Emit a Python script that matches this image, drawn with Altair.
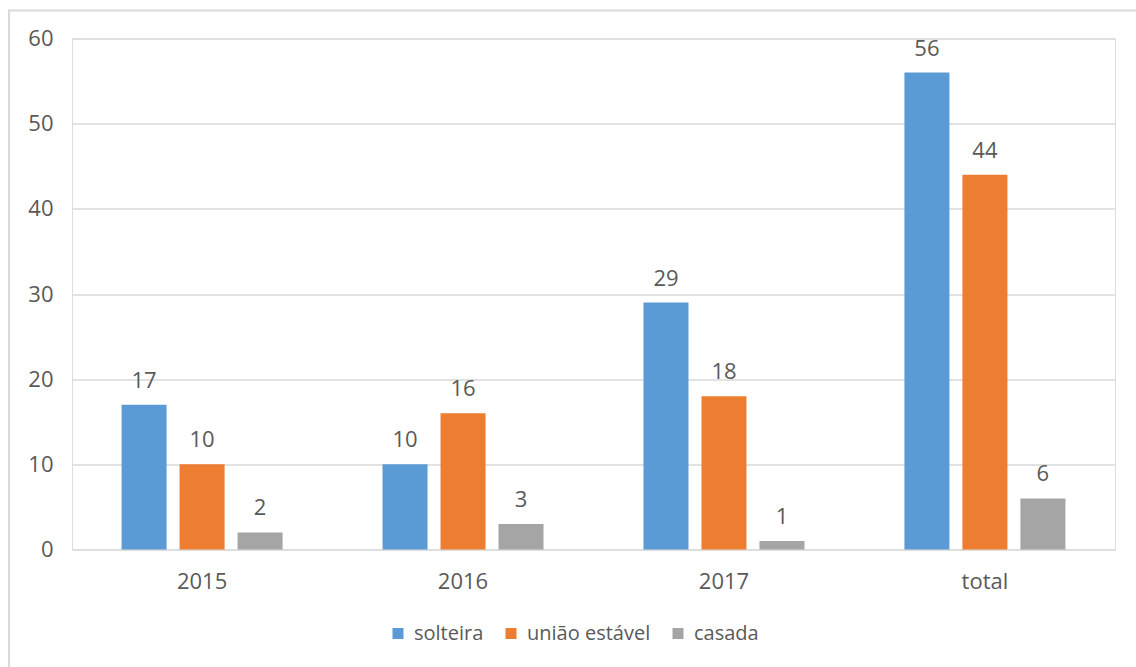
import altair as alt
import pandas as pd

categories = ["2015", "2016", "2017", "total"]
series = ["solteira", "união estável", "casada"]
solteira = [17, 10, 29, 56]
uniao = [10, 16, 18, 44]
casada = [2, 3, 1, 6]
colors = ["#5B9BD5", "#ED7D31", "#A5A5A5"]

rows = []
for name, vals in zip(series, [solteira, uniao, casada]):
    for c, v in zip(categories, vals):
        rows.append({"cat": c, "serie": name, "valor": v})
df = pd.DataFrame(rows)

FONT = "Open Sans"
TXT = "#595959"
W, H = 1043, 511

base = alt.Chart(df).encode(
    x=alt.X("cat:N", sort=categories, title=None,
            scale=alt.Scale(paddingInner=0.383, paddingOuter=0.19),
            axis=alt.Axis(labelAngle=0, labelFont=FONT, labelFontSize=22,
                          labelColor=TXT, ticks=False, domain=False,
                          labelPadding=22, grid=False)),
    xOffset=alt.XOffset("serie:N", sort=series,
                        scale=alt.Scale(paddingInner=0.224, paddingOuter=0)),
)

bars = base.mark_bar().encode(
    y=alt.Y("valor:Q", title=None,
            scale=alt.Scale(domain=[0, 60], nice=False),
            axis=alt.Axis(values=[0, 10, 20, 30, 40, 50, 60], labelFont=FONT,
                          labelFontSize=22, labelColor=TXT, ticks=False,
                          domain=False, labelPadding=19, gridColor="#d9d9d9",
                          gridWidth=1.3)),
    color=alt.Color("serie:N", sort=series,
                    scale=alt.Scale(domain=series, range=colors),
                    legend=alt.Legend(title=None, orient="none", direction="horizontal",
                                      legendX=316, legendY=585,
                                      symbolType="square", symbolSize=121,
                                      symbolStrokeWidth=0,
                                      labelFont=FONT, labelFontSize=20,
                                      labelColor=TXT, columnPadding=17,
                                      labelOffset=6)),
)

labels = base.mark_text(font=FONT, fontSize=22, color=TXT, baseline="alphabetic",
                        dy=-17).encode(
    y=alt.Y("valor:Q"),
    text=alt.Text("valor:Q"),
)

border = alt.Chart(pd.DataFrame({"a": [0]})).mark_rect(
    fill="transparent", stroke="#d9d9d9", strokeWidth=2
).encode(x=alt.value(-63), x2=alt.value(1090), y=alt.value(-28), y2=alt.value(700))

chart = alt.layer(border, bars, labels).properties(
    width=W, height=H,
    autosize=alt.AutoSizeParams(type="none"),
    padding={"left": 72, "top": 38.5, "right": 21, "bottom": 117.5},
).configure_view(stroke=None).configure(background="white")

chart.save("out.html", embed_options={"renderer": "svg", "actions": False})
